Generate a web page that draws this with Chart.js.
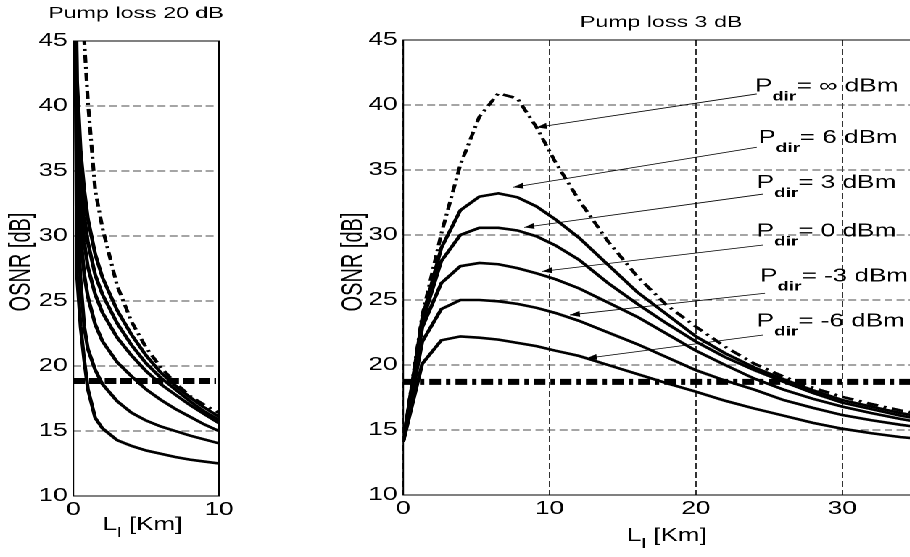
<!DOCTYPE html>
<html>
<head>
<meta charset="utf-8">
<script src="https://cdn.jsdelivr.net/npm/chart.js@4.4.1/dist/chart.umd.min.js"></script>
<style>
  html, body { margin: 0; padding: 0; background: #fff; overflow: hidden; }
  /* the original figure is stretched sideways, so the whole stage is too */
  #stage { position: relative; width: 628px; height: 557px; transform: scaleX(1.45); transform-origin: 0 0; }
  #leftChart { position: absolute; left: 0; top: 0; }
  #rightChart { position: absolute; left: 225px; top: 0; }
</style>
</head>
<body>
<div id="stage">
  <canvas id="leftChart" width="175" height="557"></canvas>
  <canvas id="rightChart" width="420" height="557"></canvas>
</div>
<script>
'use strict';

const S = 1.45;
const FONT = '"Liberation Sans", Arial, Helvetica, sans-serif';

// ---- left panel: pump loss 20 dB ----
let leftX = [0.05, 0.25, 0.5, 0.75, 1, 1.5, 2, 3, 4, 5, 6, 7, 8, 9, 10];
let leftInf = [null, null, 55, 45, 40.3, 33.5, 30.6, 26.2, 23.4, 21.4, 19.9, 18.7, 17.7, 17.0, 16.4];
let leftC1 = [60, 42, 36.5, 33.5, 31.3, 28.6, 26.8, 24.3, 22.4, 20.8, 19.5, 18.5, 17.6, 16.8, 16.1];
let leftC2 = [60, 40.5, 34.5, 31.5, 29.5, 27.0, 25.5, 23.3, 21.6, 20.2, 19.1, 18.2, 17.3, 16.5, 15.85];
let leftC3 = [60, 38.5, 32.5, 29.5, 27.6, 25.5, 24.1, 22.2, 20.8, 19.6, 18.6, 17.8, 17.0, 16.3, 15.6];
let leftC4 = [60, 36, 30, 27, 25.3, 23.2, 21.9, 20.3, 19.2, 18.2, 17.4, 16.7, 16.1, 15.5, 15.0];
let leftC5 = [60, 32, 26.5, 23, 21.3, 19.7, 18.6, 17.3, 16.4, 15.8, 15.35, 15.0, 14.65, 14.35, 14.05];
let leftC6 = [60, 27, 23, 20.4, 18.2, 16.0, 15.2, 14.3, 13.85, 13.5, 13.25, 13.0, 12.8, 12.65, 12.5];
let leftLimitX = [0, 9.8];
let leftLimitY = [18.85, 18.85];

// ---- right panel: pump loss 3 dB ----
let rightX = [0, 1.3, 2.6, 3.9, 5.2, 6.5, 7.8, 9.1, 10.4, 12, 14, 16, 18, 20, 22, 24, 26, 28, 30, 32, 34, 35];
let rightInf = [14.1, 23.8, 30.1, 35.4, 39.1, 40.9, 40.5, 38.3, 35.6, 32.7, 29.5, 26.8, 24.6, 22.95, 21.4, 20.1, 19.1, 18.25, 17.55, 17.0, 16.5, 16.3];
let rightP6 = [14.1, 23.6, 29.0, 31.9, 32.95, 33.2, 32.9, 32.2, 31.2, 29.8, 27.7, 25.6, 23.9, 22.2, 20.9, 19.8, 18.9, 18.05, 17.3, 16.8, 16.3, 16.1];
let rightP3 = [14.1, 23.3, 28.0, 30.0, 30.55, 30.55, 30.35, 29.9, 29.2, 28.1, 26.3, 24.7, 23.2, 21.8, 20.6, 19.6, 18.7, 17.85, 17.1, 16.6, 16.1, 15.9];
let rightP0 = [14.1, 22.9, 26.3, 27.6, 27.85, 27.75, 27.45, 27.05, 26.6, 25.9, 24.8, 23.7, 22.4, 21.1, 20.0, 18.95, 18.1, 17.4, 16.8, 16.3, 15.85, 15.65];
let rightPm3 = [14.1, 21.8, 24.3, 25.0, 25.0, 24.9, 24.7, 24.4, 24.0, 23.4, 22.5, 21.6, 20.6, 19.6, 18.8, 18.1, 17.3, 16.7, 16.15, 15.75, 15.4, 15.25];
let rightPm6 = [14.1, 20.1, 21.9, 22.2, 22.1, 21.95, 21.7, 21.45, 21.1, 20.7, 20.0, 19.3, 18.6, 17.95, 17.25, 16.65, 16.1, 15.55, 15.1, 14.75, 14.45, 14.35];
let rightLimitX = [0, 35];
let rightLimitY = [18.7, 18.7];

// labels "P_dir = ..." and their arrows, in data units
let labelText = ['= \u221e dBm', '= 6 dBm', '= 3 dBm', '= 0 dBm', '= -3 dBm', '= -6 dBm'];
let labelX = [24.03, 24.27, 24.16, 24.16, 24.38, 24.16];
let labelY = [41.02, 37.08, 33.6, 29.87, 26.41, 22.95];
let arrowFromX = [24.16, 24.16, 24.6, 24.6, 24.72, 24.6];
let arrowFromY = [40.85, 36.75, 33.15, 29.23, 25.52, 22.31];
let arrowToX = [9.12, 7.52, 8.27, 9.5, 11.39, 12.54];
let arrowToY = [38.28, 33.67, 30.59, 27.2, 23.85, 20.52];

let yTicks = [10, 15, 20, 25, 30, 35, 40, 45];


function pts(xs, ys) {
  return xs.map((x, i) => ({x: x, y: ys[i]}));
}

function curve(xs, ys) {
  return {data: pts(xs, ys), borderColor: '#000', borderWidth: 2.6, pointRadius: 0, tension: 0, clip: 0, spanGaps: false};
}

function dashCurve(xs, ys) {
  let d = curve(xs, ys);
  d.borderDash = [8, 4, 2, 4];
  return d;
}

function limitLine(xs, ys, dash) {
  let d = curve(xs, ys);
  d.borderWidth = 6;
  d.borderDash = dash;
  d.borderCapStyle = 'butt';
  return d;
}

function drawSubText(ctx, x, y, main, sub, rest, size, subSize, subBold, drop) {
  ctx.textAlign = 'left';
  ctx.textBaseline = 'alphabetic';
  ctx.font = size + 'px ' + FONT;
  ctx.fillText(main, x, y);
  x += ctx.measureText(main).width;
  ctx.font = (subBold ? 'bold ' : '') + subSize + 'px ' + FONT;
  ctx.fillText(sub, x, y + drop);
  x += ctx.measureText(sub).width;
  ctx.font = size + 'px ' + FONT;
  ctx.fillText(rest, x, y);
}

const panelDecor = {
  id: 'panelDecor',
  afterDraw(chart, args, opts) {
    let ctx = chart.ctx;
    let a = chart.chartArea;
    let xs = chart.scales.x;
    let ys = chart.scales.y;
    ctx.save();
    ctx.setLineDash([]);
    ctx.strokeStyle = '#000';
    ctx.fillStyle = '#000';
    ctx.lineWidth = 1;
    ctx.strokeRect(a.left, a.top, a.right - a.left, a.bottom - a.top);

    ctx.font = '16px ' + FONT;
    ctx.textAlign = 'center';
    ctx.textBaseline = 'alphabetic';
    ctx.fillText(opts.title, opts.titleX, opts.titleY);

    ctx.save();
    ctx.translate(opts.yTitleX, opts.yTitleY);
    ctx.rotate(-Math.PI / 2);
    ctx.font = '20px ' + FONT;
    ctx.textAlign = 'center';
    ctx.textBaseline = 'middle';
    ctx.fillText('OSNR [dB]', 0, 0);
    ctx.restore();

    drawSubText(ctx, opts.xTitleX, opts.xTitleY, 'L', 'l', ' [Km]', 18, 14, false, 7);

    if (opts.labels) {
      for (let i = 0; i < labelText.length; i++) {
        let x1 = xs.getPixelForValue(arrowFromX[i]);
        let y1 = ys.getPixelForValue(arrowFromY[i]);
        let x2 = xs.getPixelForValue(arrowToX[i]);
        let y2 = ys.getPixelForValue(arrowToY[i]);
        ctx.lineWidth = 0.8;
        ctx.beginPath();
        ctx.moveTo(x1, y1);
        ctx.lineTo(x2, y2);
        ctx.stroke();
        // arrow head, shaped in screen space
        let ang = Math.atan2(y2 - y1, (x2 - x1) * S);
        let len = 10, half = 3;
        let bx = -Math.cos(ang) * len, by = -Math.sin(ang) * len;
        let px = -Math.sin(ang) * half, py = Math.cos(ang) * half;
        ctx.beginPath();
        ctx.moveTo(x2, y2);
        ctx.lineTo(x2 + (bx + px) / S, y2 + by + py);
        ctx.lineTo(x2 + (bx - px) / S, y2 + by - py);
        ctx.closePath();
        ctx.fill();

        drawSubText(ctx, xs.getPixelForValue(labelX[i]), ys.getPixelForValue(labelY[i]),
          'P', 'dir', labelText[i], 18, 13, true, 9);
      }
    }
    ctx.restore();
  }
};

function makeOptions(cfg) {
  return {
    responsive: false,
    animation: false,
    devicePixelRatio: 2,
    layout: {padding: {left: 0, right: cfg.padRight, top: cfg.padTop, bottom: 0}},
    plugins: {
      legend: {display: false},
      tooltip: {enabled: false},
      panelDecor: cfg.decor,
    },
    scales: {
      x: {
        type: 'linear',
        min: 0,
        max: cfg.xMax,
        afterFit: (scale) => { scale.height = cfg.xHeight; },
        ticks: {stepSize: 10, includeBounds: false, padding: 3, color: '#000', font: {family: FONT, size: 18}, maxRotation: 0},
        grid: {display: cfg.xGrid, drawTicks: false, color: '#000', lineWidth: 0.8},
        border: {display: false, dash: [6, 3]},
      },
      y: {
        type: 'linear',
        min: 10,
        max: 45,
        afterFit: (scale) => { scale.width = cfg.yWidth; },
        afterBuildTicks: (scale) => { scale.ticks = yTicks.map(v => ({value: v})); },
        ticks: {padding: 4, color: '#000', font: {family: FONT, size: 18}},
        grid: {drawTicks: false, color: '#4a4a4a', lineWidth: 1},
        border: {display: false, dash: [5.5, 2.8]},
      },
    },
  };
}

new Chart(document.getElementById('leftChart'), {
  type: 'line',
  data: {
    datasets: [
      limitLine(leftLimitX, leftLimitY, [8, 2.8]),
      dashCurve(leftX, leftInf),
      curve(leftX, leftC1),
      curve(leftX, leftC2),
      curve(leftX, leftC3),
      curve(leftX, leftC4),
      curve(leftX, leftC5),
      curve(leftX, leftC6),
    ],
  },
  options: makeOptions({
    xMax: 10, xHeight: 61, yWidth: 50.6, padRight: 24, padTop: 41, xGrid: false,
    decor: {title: 'Pump loss 20 dB', titleX: 93.8, titleY: 18, yTitleX: 15.2, yTitleY: 262, xTitleX: 70.8, xTitleY: 530},
  }),
  plugins: [panelDecor],
});

new Chart(document.getElementById('rightChart'), {
  type: 'line',
  data: {
    datasets: [
      limitLine(rightLimitX, rightLimitY, [8, 3.5, 3, 3.5]),
      dashCurve(rightX, rightInf),
      curve(rightX, rightP6),
      curve(rightX, rightP3),
      curve(rightX, rightP0),
      curve(rightX, rightPm3),
      curve(rightX, rightPm6),
    ],
  },
  options: makeOptions({
    xMax: 35, xHeight: 62, yWidth: 53.1, padRight: 13.7, padTop: 40, xGrid: true,
    decor: {title: 'Pump loss 3 dB', titleX: 230.9, titleY: 27, yTitleX: 18.8, yTitleY: 262, xTitleX: 207.4, xTitleY: 541, labels: true},
  }),
  plugins: [panelDecor],
});
</script>
</body>
</html>
